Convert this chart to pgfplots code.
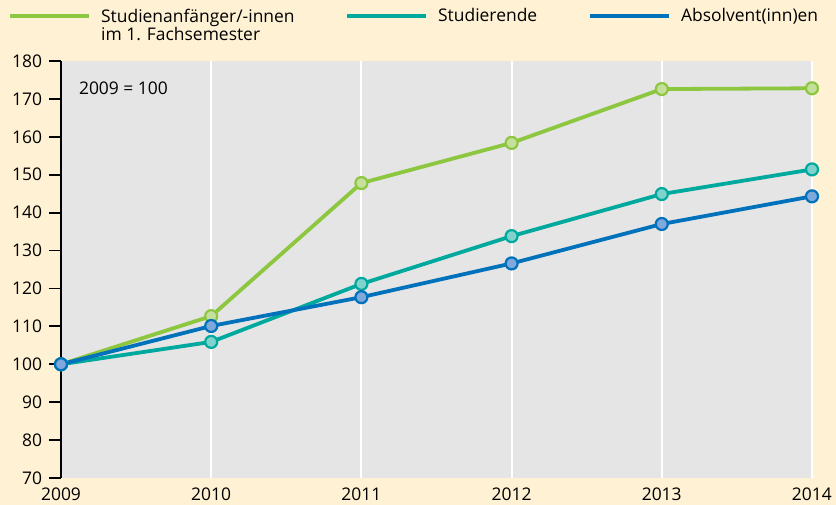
\documentclass[border=0pt]{standalone}
\usepackage{pgfplots}
\pgfplotsset{compat=1.18}
\usepackage{fontspec}
\setmainfont{Open Sans}
\definecolor{bg}{HTML}{FFF2D4}
\definecolor{plotgray}{HTML}{E5E5E5}
\definecolor{cgreen}{HTML}{8DC63F}
\definecolor{cgreenl}{HTML}{C5E09C}
\definecolor{cteal}{HTML}{00A99D}
\definecolor{ctealL}{HTML}{7FD3CC}
\definecolor{cblue}{HTML}{0072BC}
\definecolor{cblueL}{HTML}{7FA8DC}
\newcommand{\ff}{\fontsize{17.5}{21}\selectfont}
\begin{document}
\ff
\begin{tikzpicture}
\fill[bg] (-61bp,-27bp) rectangle (775bp,478bp);
\begin{axis}[
  at={(0,0)}, anchor=south west,
  scale only axis, width=751bp, height=417bp,
  xmin=2009, xmax=2014, ymin=70, ymax=180,
  axis lines*=left,
  axis background/.style={fill=plotgray},
  x axis line style={draw=none},
  y axis line style={black, line width=1.8bp},
  xtick={2009,...,2014},
  ytick={70,80,...,180},
  xtick style={draw=none},
  ytick style={black, line width=1.8bp},
  tick align=outside,
  major tick length=12bp,
  xmajorgrids,
  major x grid style={white, line width=2bp},
  /pgf/number format/1000 sep={},
  /pgf/number format/assume math mode=true,
  xticklabel style={font=\ff, inner sep=0pt, yshift=2bp},
  yticklabel style={font=\ff, xshift=-1bp},
  clip=false,
  every axis plot/.append style={line width=3.8bp},
  legend columns=3,
  legend style={draw=none, fill=none, inner sep=0pt, at={(-0.0706,1.128)}, anchor=north west,
    font=\ff,
    nodes={inner sep=0pt},
    /tikz/every odd column/.append style={column sep=10bp},
    /tikz/every even column/.append style={column sep=0bp}},
  legend cell align=left,
  legend image code/.code={\draw[#1, line width=4bp] (0bp,0bp) -- (79bp,0bp);},
]
\addplot[cgreen, mark=*, mark size=6bp, mark options={fill=cgreenl, draw=cgreen, line width=2.2bp, preaction={draw=white, line width=5.5bp}}] coordinates {
(2009,100) (2010,112.7) (2011,147.8) (2012,158.4) (2013,172.6) (2014,172.8)};
\addlegendentry{\makebox[244bp][l]{\begin{tabular}[t]{@{}l@{}}Studienanfänger/-innen\\[-3bp]im 1. Fachsemester\end{tabular}}}
\addplot[cteal, mark=*, mark size=6bp, mark options={fill=ctealL, draw=cteal, line width=2.2bp, preaction={draw=white, line width=5.5bp}}] coordinates {
(2009,100) (2010,105.9) (2011,121.2) (2012,133.8) (2013,144.9) (2014,151.4)};
\addlegendentry{\makebox[150bp][l]{Studierende}}
\addplot[cblue, mark=*, mark size=6bp, mark options={fill=cblueL, draw=cblue, line width=2.2bp, preaction={draw=white, line width=5.5bp}}] coordinates {
(2009,100) (2010,110.1) (2011,117.7) (2012,126.6) (2013,137.0) (2014,144.3)};
\addlegendentry{Absolvent(inn)en}
\node[anchor=west, font=\ff] at (rel axis cs:0.016,0.935) {2009 = 100};
\end{axis}
\pgfresetboundingbox
\useasboundingbox (-61bp,-27bp) rectangle (775bp,478bp);
\end{tikzpicture}
\end{document}
